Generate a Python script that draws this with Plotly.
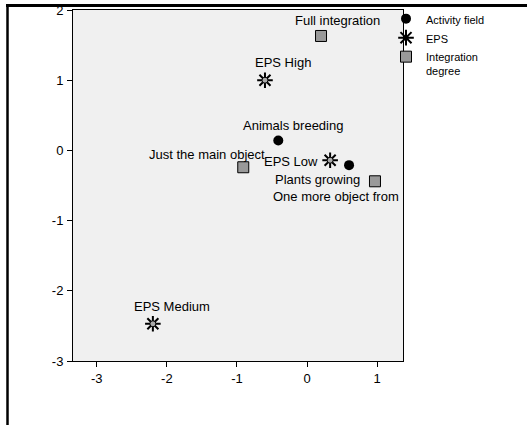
import plotly.graph_objects as go

# ---- data ----
activity_labels = ["Animals breeding", "Plants growing"]
activity_x = [-0.41, 0.60]
activity_y = [0.14, -0.21]

eps_labels = ["EPS High", "EPS Low", "EPS Medium"]
eps_x = [-0.60, 0.33, -2.20]
eps_y = [1.00, -0.14, -2.47]

integ_labels = ["Full integration", "Just the main object", "One more object from"]
integ_x = [0.20, -0.91, 0.97]
integ_y = [1.63, -0.24, -0.44]

x_ticks = [-3, -2, -1, 0, 1]
x_tick_labels = ["-3", "-2", "-1", "0", "1"]
y_ticks = [-3, -2, -1, 0, 1, 2]
y_tick_labels = ["-3", "-2", "-1", "0", "1", "2"]

# ---- label placement styles (pixel offsets: xanchor, xshift, yshift) ----
label_style = {
    "Animals breeding": ("center", 15, 15),
    "Plants growing": ("center", -32, -14),
    "EPS High": ("center", 18, 18),
    "EPS Low": ("right", -10, -1),
    "EPS Medium": ("center", 19, 17),
    "Full integration": ("center", 16, 15),
    "Just the main object": ("right", 24, 13),
    "One more object from": ("left", -104, -15),
}

FONT = "Liberation Sans, Arial, sans-serif"

fig = go.Figure()
fig.add_trace(go.Scatter(
    x=activity_x, y=activity_y, mode="markers", name="Activity field",
    marker=dict(symbol="circle", size=10, color="black"),
))
fig.add_trace(go.Scatter(
    x=eps_x, y=eps_y, mode="markers", name="EPS",
    marker=dict(symbol="asterisk-open", size=13, color="black",
                line=dict(color="black", width=2)),
))
fig.add_trace(go.Scatter(
    x=eps_x, y=eps_y, mode="markers", name="EPS", showlegend=False,
    marker=dict(symbol="circle", size=6, color="#aaaaaa",
                line=dict(color="black", width=1)),
))
fig.add_trace(go.Scatter(
    x=integ_x, y=integ_y, mode="markers", name="Integration<br>degree",
    marker=dict(symbol="square", size=11, color="#999999",
                line=dict(color="black", width=1)),
))

for labels, xs, ys in [(activity_labels, activity_x, activity_y),
                       (eps_labels, eps_x, eps_y),
                       (integ_labels, integ_x, integ_y)]:
    for lab, xv, yv in zip(labels, xs, ys):
        anc, dx, dy = label_style[lab]
        fig.add_annotation(x=xv, y=yv, text=lab, showarrow=False,
                           xanchor=anc, yanchor="middle", xshift=dx, yshift=dy,
                           font=dict(family=FONT, size=13, color="black"))

# layout geometry (pixels); top margin 0 so the outer frame lies inside paper
L, R, T, B = 73, 124, 0, 64
PLOT_TOP = 10
W, H = 527, 425
pw, ph = W - L - R, H - T - B
def px(xp):
    return (xp - L) / pw
def py(yp):
    return (H - B - yp) / ph

fig.add_shape(type="line", xref="paper", yref="paper",
              x0=px(6), x1=px(W), y0=py(5.5), y1=py(5.5),
              line=dict(color="black", width=3), layer="above")
fig.add_shape(type="line", xref="paper", yref="paper",
              x0=px(7.5), x1=px(7.5), y0=py(H), y1=py(4),
              line=dict(color="black", width=2.5), layer="above")

axis_common = dict(showgrid=False, zeroline=False, showline=True, mirror=True,
                   linecolor="black", linewidth=1, ticks="outside", ticklen=5,
                   tickcolor="black", tickwidth=1,
                   tickfont=dict(family=FONT, size=13, color="black"))

fig.update_layout(
    width=W, height=H,
    margin=dict(l=L, r=R, t=T, b=B, autoexpand=False),
    paper_bgcolor="white", plot_bgcolor="#f0f0f0",
    xaxis=dict(range=[-3.34, 1.37], tickvals=x_ticks, ticktext=x_tick_labels,
               **axis_common),
    yaxis=dict(range=[-3, 2], tickvals=y_ticks, ticktext=y_tick_labels,
               domain=[0, py(PLOT_TOP)], ticklabelstandoff=1, **axis_common),
    showlegend=True,
    legend=dict(x=px(386), y=py(5), xanchor="left", yanchor="top",
                bgcolor="rgba(0,0,0,0)", borderwidth=0, valign="top",
                tracegroupgap=0, itemwidth=30,
                font=dict(family=FONT, size=11, color="black")),
)

fig.write_html("out.html",
               config={"displayModeBar": False},
               post_script="document.body.style.margin='0';"
                           "document.body.style.overflow='hidden';")
